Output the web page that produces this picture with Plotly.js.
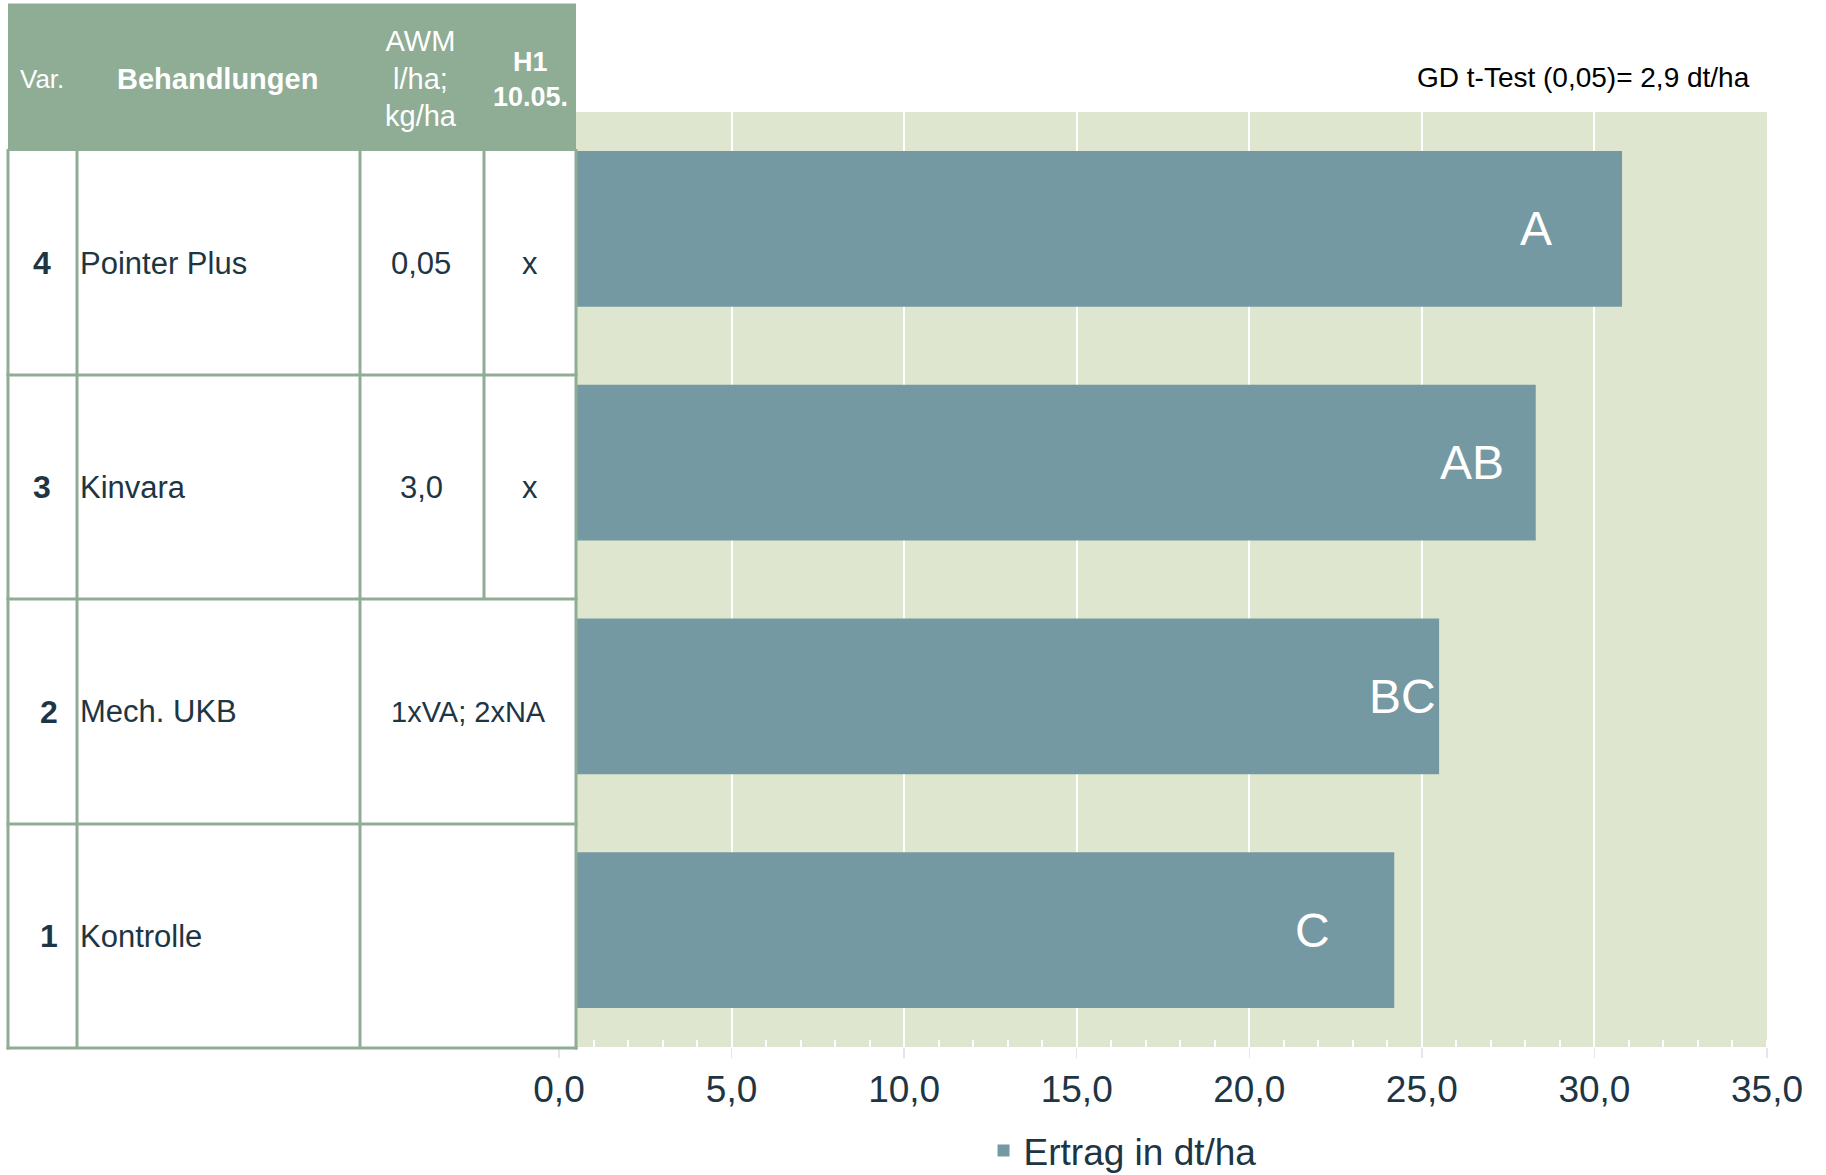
<!DOCTYPE html>
<html>
<head>
<meta charset="utf-8">
<script src="https://cdn.plot.ly/plotly-3.0.1.min.js"></script>
<style>html,body{margin:0;padding:0;background:#fff;}#chart{width:1826px;height:1175px;}</style>
</head>
<body>
<div id="chart"></div>
<script>
// ---- data ----
const variants   = ['1', '2', '3', '4'];
const treatments = ['Kontrolle', 'Mech. UKB', 'Kinvara', 'Pointer Plus'];
const rates      = ['', '1xVA; 2xNA', '3,0', '0,05'];
const h1Marks    = ['', '', 'x', 'x'];
const yields     = [24.2, 25.5, 28.3, 30.8];
const letters    = ['C', 'BC', 'AB', 'A'];
const seriesName = 'Ertrag in dt/ha';
const gdText     = 'GD t-Test (0,05)= 2,9 dt/ha';
const headVar    = 'Var.';
const headTreat  = 'Behandlungen';
const headAWM    = 'AWM<br>l/ha;<br>kg/ha';
const headH1     = 'H1';
const headDate   = '10.05.';
const tickVals   = [0, 5, 10, 15, 20, 25, 30, 35];

// ---- styling / geometry ----
const FONT = 'Liberation Sans, Arial, sans-serif';
const DARK = '#1e3543';
const GREEN = '#8fac95';
const L = 559, R = 1767, T = 112, B = 1047;
const W = R - L, H = B - T;
const px = v => (v - L) / W;
const py = v => (B - v) / H;

const rowEdges = [151, 375, 599, 824, 1048]; // top -> bottom (var 4 at top)
const colX = {left: 8, c1: 77, c2: 360, c3: 484, right: 576};
const numX = [49, 49, 42, 42];
const letterShift = [-82, -37, -64, -86];

const shapes = [];
const annotations = [];

// table body background (covers the start of the plot area) and header block
shapes.push({type: 'rect', xref: 'paper', yref: 'paper', layer: 'above',
  x0: px(colX.left), x1: px(colX.right), y0: py(rowEdges[4]), y1: py(rowEdges[0]),
  fillcolor: '#ffffff', line: {width: 0}});
shapes.push({type: 'rect', xref: 'paper', yref: 'paper', layer: 'above',
  x0: px(colX.left), x1: px(colX.right), y0: py(rowEdges[0]), y1: py(3.5),
  fillcolor: GREEN, line: {width: 0}});

function vline(x, y0, y1) {
  shapes.push({type: 'line', xref: 'paper', yref: 'paper', layer: 'above',
    x0: px(x), x1: px(x), y0: py(y0), y1: py(y1), line: {color: GREEN, width: 3}});
}
function hline(y, x0, x1) {
  shapes.push({type: 'line', xref: 'paper', yref: 'paper', layer: 'above',
    x0: px(x0), x1: px(x1), y0: py(y), y1: py(y), line: {color: GREEN, width: 3}});
}
vline(colX.left, 149, 1049.5);
vline(colX.c1, 151, 1048);
vline(colX.c2, 151, 1048);
vline(colX.c3, 151, rowEdges[2]);
vline(colX.right, 149, 1049.5);
for (let k = 1; k < rowEdges.length; k++) hline(rowEdges[k], colX.left - 1.5, colX.right + 1.5);

function txt(text, x, y, size, color, opts) {
  annotations.push(Object.assign({xref: 'paper', yref: 'paper', x: px(x), y: py(y),
    text: text, showarrow: false, xanchor: 'center', yanchor: 'middle',
    font: {family: FONT, size: size, color: color}}, opts || {}));
}
// header texts
txt(headVar, 42, 79, 26, '#ffffff');
txt('<b>' + headTreat + '</b>', 218, 79, 29, '#ffffff');
txt(headAWM, 421, 79, 29, '#ffffff');
txt('<b>' + headH1 + '</b>', 530, 62, 27, '#ffffff');
txt('<b>' + headDate + '</b>', 530, 97, 27, '#ffffff');

// body rows
for (let i = 0; i < variants.length; i++) {
  const r = variants.length - 1 - i;
  const yc = (rowEdges[r] + rowEdges[r + 1]) / 2;
  txt('<b>' + variants[i] + '</b>', numX[i], yc, 32, DARK);
  txt(treatments[i], 78, yc, 31, DARK, {xanchor: 'left'});
  if (h1Marks[i] !== '') {
    txt(rates[i], 421, yc, 31, DARK);
    txt(h1Marks[i], 530, yc, 31, DARK);
  } else if (rates[i] !== '') {
    txt(rates[i], (colX.c2 + colX.right) / 2, yc, 29, DARK);
  }
}

// GD text
txt(gdText, 1752, 77, 28, '#000000', {xanchor: 'right'});

// bar letters (y given as category index)
for (let i = 0; i < variants.length; i++) {
  annotations.push({xref: 'x', yref: 'y', x: yields[i], y: i,
    text: letters[i], showarrow: false, xanchor: 'center', yanchor: 'middle',
    xshift: letterShift[i],
    font: {family: FONT, size: 48, color: '#ffffff'}});
}

const trace = {
  type: 'bar', orientation: 'h',
  x: yields, y: variants, name: seriesName,
  marker: {color: '#7599a3', line: {width: 0}},
  hoverinfo: 'none', showlegend: true
};

const layout = {
  width: 1826, height: 1175,
  margin: {l: L, r: 1826 - R, t: T, b: 1175 - B, pad: 0, autoexpand: false},
  paper_bgcolor: '#ffffff', plot_bgcolor: '#dfe6cf',
  separators: ', ',
  bargap: 0.334,
  font: {family: FONT, color: DARK},
  xaxis: {
    range: [0, 35], tickvals: tickVals, tickformat: '.1f',
    showgrid: true, gridcolor: '#ffffff', gridwidth: 2,
    zeroline: false, showline: false,
    ticks: 'outside', ticklen: 10, tickwidth: 1.5, tickcolor: '#e6e6e6',
    tickfont: {family: FONT, size: 37, color: DARK},
    minor: {dtick: 1, ticks: 'inside', ticklen: 7, tickwidth: 2, tickcolor: '#ffffff', showgrid: false},
    automargin: false, fixedrange: true
  },
  yaxis: {
    type: 'category', categoryorder: 'array', categoryarray: variants,
    range: [-0.5, 3.5], showticklabels: false, showgrid: false, zeroline: false,
    ticks: '', showline: false, automargin: false, fixedrange: true
  },
  legend: {orientation: 'h', x: 0.4665, xanchor: 'center', y: py(1151), yanchor: 'middle',
    font: {family: FONT, size: 37, color: DARK}, bgcolor: 'rgba(0,0,0,0)'},
  shapes: shapes,
  annotations: annotations
};

Plotly.newPlot('chart', [trace], layout, {staticPlot: true, displayModeBar: false});
</script>
</body>
</html>
